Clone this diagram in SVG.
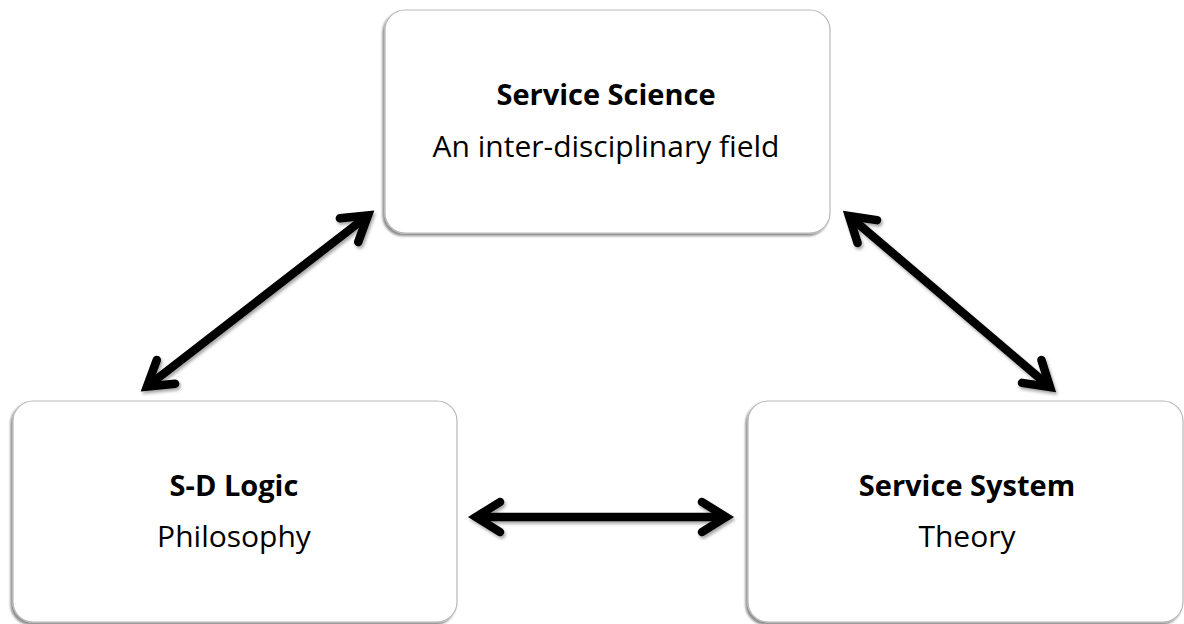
<svg xmlns="http://www.w3.org/2000/svg" width="1184" height="624" viewBox="0 0 1184 624">
  <style>
    .box { fill: #ffffff; stroke: #b8b8b8; stroke-width: 1.2; filter: url(#boxShadow); }
    .title { font-family: "Open Sans", "Noto Sans", sans-serif; font-weight: bold; font-size: 29px; fill: #000; text-anchor: middle; }
    .sub { font-family: "Open Sans", "Noto Sans", sans-serif; font-size: 30px; fill: #000; text-anchor: middle; }
    .link { fill: none; stroke: #000; stroke-width: 8.5; stroke-linecap: butt; marker-start: url(#chev); marker-end: url(#chev); }
  </style>
  <defs>
    <filter id="boxShadow" x="-5%" y="-5%" width="110%" height="115%">
      <feDropShadow dx="-2" dy="2.5" stdDeviation="1.2" flood-color="#000" flood-opacity="0.45"/>
    </filter>
    <filter id="arrowShadow" x="-10%" y="-10%" width="120%" height="130%">
      <feDropShadow dx="1.5" dy="2.5" stdDeviation="1.5" flood-color="#000" flood-opacity="0.35"/>
    </filter>
    <marker id="chev" markerUnits="userSpaceOnUse" markerWidth="60" markerHeight="60" viewBox="-40 -30 60 60" refX="0" refY="0" orient="auto-start-reverse" overflow="visible">
      <path d="M -24 -15 L 0 0 L -24 15" fill="none" stroke="#000" stroke-width="8.5" stroke-linecap="round" stroke-linejoin="miter"/>
    </marker>
  </defs>

  <rect width="1184" height="624" fill="#ffffff"/>

  <!-- connectors: double-headed arrows between the three concepts -->
  <g id="connectors" filter="url(#arrowShadow)">
    <path class="link" d="M 147 386.5 L 368 215.5"/>
    <path class="link" d="M 849 216 L 1050 387"/>
    <path class="link" d="M 476 517 L 726 517"/>
  </g>

  <g id="service-science">
    <rect class="box" x="385" y="10" width="445" height="223" rx="20" ry="20"/>
    <text class="title" x="606" y="105">Service Science</text>
    <text class="sub" x="606" y="157">An inter-disciplinary field</text>
  </g>

  <g id="sd-logic">
    <rect class="box" x="13" y="401" width="444" height="221" rx="20" ry="20"/>
    <text class="title" x="234" y="496">S-D Logic</text>
    <text class="sub" x="234" y="547">Philosophy</text>
  </g>

  <g id="service-system">
    <rect class="box" x="748" y="401" width="435" height="221" rx="20" ry="20"/>
    <text class="title" x="967" y="496">Service System</text>
    <text class="sub" x="967" y="547">Theory</text>
  </g>
</svg>
